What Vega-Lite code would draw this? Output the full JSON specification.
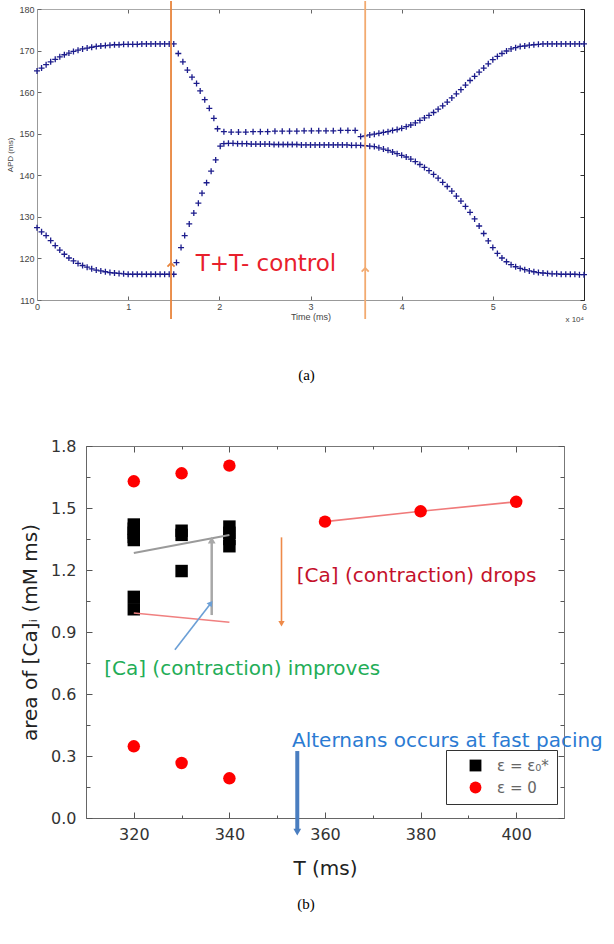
{
"$schema": "https://vega.github.io/schema/vega-lite/v6.json",
"padding": {"left": 6, "top": 0, "right": 0, "bottom": 0},
"spacing": 55,
"config": {"view": {"stroke": null}, "axis": {"grid": false, "titleFontWeight": "normal", "labelOverlap": false, "labelFlush": false, "labelBound": false}},
"datasets": {
"apd": [
{"t":0,"v":165.1},{"t":0.05,"v":165.8},{"t":0.1,"v":166.6},{"t":0.15,"v":167.3},{"t":0.2,"v":167.9},{"t":0.25,"v":168.5},{"t":0.3,"v":169.0},{"t":0.35,"v":169.4},{"t":0.4,"v":169.8},{"t":0.45,"v":170.1},{"t":0.5,"v":170.4},{"t":0.55,"v":170.6},{"t":0.6,"v":170.8},{"t":0.65,"v":171.0},{"t":0.7,"v":171.1},{"t":0.75,"v":171.2},{"t":0.8,"v":171.3},{"t":0.85,"v":171.4},{"t":0.9,"v":171.4},{"t":0.95,"v":171.5},{"t":1.0,"v":171.5},{"t":1.05,"v":171.5},{"t":1.1,"v":171.5},{"t":1.15,"v":171.6},{"t":1.2,"v":171.6},{"t":1.25,"v":171.6},{"t":1.3,"v":171.6},{"t":1.35,"v":171.6},{"t":1.4,"v":171.6},{"t":1.45,"v":171.6},{"t":1.5,"v":171.6},
{"t":1.55,"v":169.3},{"t":1.6,"v":167.3},{"t":1.65,"v":165.3},{"t":1.7,"v":163.6},{"t":1.75,"v":162.1},{"t":1.79,"v":160.3},{"t":1.84,"v":158.2},{"t":1.89,"v":156.1},{"t":1.94,"v":153.7},{"t":1.98,"v":151.2},{"t":2.05,"v":150.5},
{"t":2.13,"v":150.4},{"t":2.21,"v":150.4},{"t":2.29,"v":150.4},{"t":2.37,"v":150.5},{"t":2.45,"v":150.5},{"t":2.53,"v":150.5},{"t":2.61,"v":150.6},{"t":2.69,"v":150.6},{"t":2.77,"v":150.6},{"t":2.85,"v":150.6},{"t":2.93,"v":150.7},{"t":3.01,"v":150.7},{"t":3.09,"v":150.7},{"t":3.17,"v":150.7},{"t":3.25,"v":150.7},{"t":3.33,"v":150.8},{"t":3.41,"v":150.8},{"t":3.49,"v":150.8},
{"t":0,"v":127.4},{"t":0.05,"v":126.4},{"t":0.1,"v":125.5},{"t":0.15,"v":124.3},{"t":0.2,"v":123.1},{"t":0.25,"v":122.0},{"t":0.3,"v":121.0},{"t":0.35,"v":120.1},{"t":0.4,"v":119.4},{"t":0.45,"v":118.8},{"t":0.5,"v":118.3},{"t":0.55,"v":117.9},{"t":0.6,"v":117.5},{"t":0.65,"v":117.2},{"t":0.7,"v":117.0},{"t":0.75,"v":116.8},{"t":0.8,"v":116.6},{"t":0.85,"v":116.5},{"t":0.9,"v":116.4},{"t":0.95,"v":116.3},{"t":1.0,"v":116.2},{"t":1.05,"v":116.2},{"t":1.1,"v":116.2},{"t":1.15,"v":116.2},{"t":1.2,"v":116.2},{"t":1.25,"v":116.2},{"t":1.3,"v":116.2},{"t":1.35,"v":116.2},{"t":1.4,"v":116.2},{"t":1.45,"v":116.2},{"t":1.5,"v":116.2},
{"t":1.53,"v":119.0},{"t":1.58,"v":122.6},{"t":1.62,"v":125.5},{"t":1.67,"v":128.3},{"t":1.72,"v":130.9},{"t":1.77,"v":133.3},{"t":1.81,"v":135.7},{"t":1.86,"v":138.2},{"t":1.91,"v":141.0},{"t":1.96,"v":143.7},{"t":2.01,"v":147.0},
{"t":2.05,"v":147.6},{"t":2.1,"v":147.7},{"t":2.15,"v":147.7},{"t":2.2,"v":147.6},{"t":2.25,"v":147.6},{"t":2.3,"v":147.6},{"t":2.35,"v":147.5},{"t":2.4,"v":147.5},{"t":2.45,"v":147.5},{"t":2.5,"v":147.5},{"t":2.55,"v":147.5},{"t":2.6,"v":147.4},{"t":2.65,"v":147.4},{"t":2.7,"v":147.4},{"t":2.75,"v":147.4},{"t":2.8,"v":147.4},{"t":2.85,"v":147.4},{"t":2.9,"v":147.3},{"t":2.95,"v":147.3},{"t":3.0,"v":147.3},{"t":3.05,"v":147.3},{"t":3.1,"v":147.3},{"t":3.15,"v":147.3},{"t":3.2,"v":147.3},{"t":3.25,"v":147.3},{"t":3.3,"v":147.3},{"t":3.35,"v":147.3},{"t":3.4,"v":147.3},{"t":3.45,"v":147.2},{"t":3.5,"v":147.2},{"t":3.55,"v":147.2},{"t":3.6,"v":147.1},
{"t":3.65,"v":147.0},{"t":3.7,"v":146.9},{"t":3.75,"v":146.6},{"t":3.8,"v":146.3},{"t":3.85,"v":146.0},{"t":3.9,"v":145.6},{"t":3.95,"v":145.2},{"t":4.0,"v":144.8},{"t":4.05,"v":144.4},{"t":4.1,"v":143.9},{"t":4.15,"v":143.3},{"t":4.2,"v":142.6},{"t":4.25,"v":141.9},{"t":4.3,"v":141.1},{"t":4.35,"v":140.2},{"t":4.4,"v":139.3},{"t":4.45,"v":138.3},{"t":4.5,"v":137.3},{"t":4.55,"v":136.2},{"t":4.6,"v":135.0},{"t":4.65,"v":133.8},{"t":4.7,"v":132.5},{"t":4.75,"v":131.1},{"t":4.8,"v":129.5},{"t":4.85,"v":127.8},{"t":4.9,"v":126.0},{"t":4.95,"v":124.2},{"t":5.0,"v":122.6},{"t":5.05,"v":121.2},{"t":5.1,"v":120.1},{"t":5.15,"v":119.2},{"t":5.2,"v":118.5},{"t":5.25,"v":118.0},{"t":5.3,"v":117.6},{"t":5.35,"v":117.3},{"t":5.4,"v":117.0},{"t":5.45,"v":116.8},{"t":5.5,"v":116.6},{"t":5.55,"v":116.5},{"t":5.6,"v":116.4},{"t":5.65,"v":116.3},{"t":5.7,"v":116.3},{"t":5.75,"v":116.2},{"t":5.8,"v":116.2},{"t":5.85,"v":116.2},{"t":5.9,"v":116.2},{"t":5.95,"v":116.1},{"t":6.0,"v":116.1},
{"t":3.55,"v":149.3},{"t":3.6,"v":149.5},{"t":3.65,"v":149.7},{"t":3.7,"v":149.9},{"t":3.75,"v":150.1},{"t":3.8,"v":150.3},{"t":3.85,"v":150.5},{"t":3.9,"v":150.8},{"t":3.95,"v":151.0},{"t":4.0,"v":151.3},{"t":4.05,"v":151.7},{"t":4.1,"v":152.1},{"t":4.15,"v":152.6},{"t":4.2,"v":153.2},{"t":4.25,"v":153.8},{"t":4.3,"v":154.4},{"t":4.35,"v":155.1},{"t":4.4,"v":155.9},{"t":4.45,"v":156.7},{"t":4.5,"v":157.6},{"t":4.55,"v":158.6},{"t":4.6,"v":159.6},{"t":4.65,"v":160.6},{"t":4.7,"v":161.7},{"t":4.75,"v":162.8},{"t":4.8,"v":163.8},{"t":4.85,"v":164.8},{"t":4.9,"v":165.8},{"t":4.95,"v":166.8},{"t":5.0,"v":167.8},{"t":5.05,"v":168.6},{"t":5.1,"v":169.3},{"t":5.15,"v":169.9},{"t":5.2,"v":170.4},{"t":5.25,"v":170.7},{"t":5.3,"v":171.0},{"t":5.35,"v":171.1},{"t":5.4,"v":171.3},{"t":5.45,"v":171.4},{"t":5.5,"v":171.5},{"t":5.55,"v":171.6},{"t":5.6,"v":171.6},{"t":5.65,"v":171.6},{"t":5.7,"v":171.6},{"t":5.75,"v":171.6},{"t":5.8,"v":171.6},{"t":5.85,"v":171.6},{"t":5.9,"v":171.6},{"t":5.95,"v":171.6},{"t":6.0,"v":171.6}
],
"ca": [
{"T":320,"A":1.42,"eps":"ε = ε₀*"},{"T":320,"A":1.40,"eps":"ε = ε₀*"},{"T":320,"A":1.38,"eps":"ε = ε₀*"},{"T":320,"A":1.36,"eps":"ε = ε₀*"},{"T":320,"A":1.345,"eps":"ε = ε₀*"},{"T":320,"A":1.07,"eps":"ε = ε₀*"},{"T":320,"A":1.01,"eps":"ε = ε₀*"},
{"T":330,"A":1.39,"eps":"ε = ε₀*"},{"T":330,"A":1.37,"eps":"ε = ε₀*"},{"T":330,"A":1.195,"eps":"ε = ε₀*"},
{"T":340,"A":1.41,"eps":"ε = ε₀*"},{"T":340,"A":1.38,"eps":"ε = ε₀*"},{"T":340,"A":1.35,"eps":"ε = ε₀*"},{"T":340,"A":1.315,"eps":"ε = ε₀*"},
{"T":320,"A":1.629,"eps":"ε = 0"},{"T":330,"A":1.668,"eps":"ε = 0"},{"T":340,"A":1.705,"eps":"ε = 0"},
{"T":320,"A":0.347,"eps":"ε = 0"},{"T":330,"A":0.266,"eps":"ε = 0"},{"T":340,"A":0.192,"eps":"ε = 0"},
{"T":360,"A":1.434,"eps":"ε = 0"},{"T":380,"A":1.484,"eps":"ε = 0"},{"T":400,"A":1.53,"eps":"ε = 0"}
]
},
"vconcat": [
{
"width": 547, "height": 291,
"title": {"text": "(a)", "orient": "bottom", "offset": 44, "dx": -4, "font": "Liberation Serif", "fontSize": 15, "fontWeight": "normal", "color": "#000000"},
"resolve": {"axis": {"x": "independent", "y": "independent"}},
"layer": [
{"data": {"name": "apd"},
 "mark": {"type": "point", "shape": "M-1,0L1,0M0,-1L0,1", "size": 36, "filled": false, "stroke": "#1c1c8c", "strokeWidth": 1.3, "opacity": 1},
 "encoding": {
  "x": {"field": "t", "type": "quantitative", "scale": {"domain": [0, 6], "nice": false, "zero": false},
        "axis": {"orient": "bottom", "values": [0,1,2,3,4,5,6], "tickSize": -4, "tickColor": "#666", "domainColor": "#999", "labelFont": "Liberation Sans", "labelFontSize": 9, "labelColor": "#444", "labelPadding": 6, "title": "Time (ms)", "titleFont": "Liberation Sans", "titleFontSize": 9, "titleColor": "#444", "titlePadding": 1}},
  "y": {"field": "v", "type": "quantitative", "scale": {"domain": [110, 180], "nice": false, "zero": false},
        "axis": {"orient": "left", "values": [110,120,130,140,150,160,170,180], "tickSize": -4, "tickColor": "#666", "domainColor": "#999", "labelFont": "Liberation Sans", "labelFontSize": 9, "labelColor": "#444", "labelPadding": 7, "title": "APD (ms)", "titleFont": "Liberation Sans", "titleFontSize": 8, "titleColor": "#444", "titlePadding": 4}}
 }},
{"data": {"values": [{}]},
 "mark": {"type": "rule", "color": "#e8843c", "strokeWidth": 1.8, "clip": false},
 "encoding": {
  "x": {"datum": 1.47, "axis": {"orient": "top", "values": [0,1,2,3,4,5,6], "labels": false, "tickSize": -4, "tickColor": "#666", "domainColor": "#aaa", "title": null}},
  "y": {"datum": 181.9, "axis": {"orient": "right", "values": [110,120,130,140,150,160,170,180], "labels": false, "tickSize": -4, "tickColor": "#333", "domainColor": "#222", "title": null}},
  "y2": {"datum": 105.4}
 }},
{"data": {"values": [{}]},
 "mark": {"type": "rule", "color": "#f2aa70", "strokeWidth": 1.8, "clip": false},
 "encoding": {"x": {"datum": 3.6, "axis": null}, "y": {"datum": 181.9, "axis": null}, "y2": {"datum": 105.4}}},
{"data": {"values": [{}]},
 "mark": {"type": "point", "shape": "M-1,1L0,0L1,1", "size": 50, "filled": false, "stroke": "#e8843c", "strokeWidth": 1.8, "opacity": 1, "clip": false},
 "encoding": {"x": {"datum": 1.47, "axis": null}, "y": {"datum": 118.9, "axis": null}}},
{"data": {"values": [{}]},
 "mark": {"type": "point", "shape": "M-1,1L0,0L1,1", "size": 50, "filled": false, "stroke": "#f2aa70", "strokeWidth": 1.8, "opacity": 1, "clip": false},
 "encoding": {"x": {"datum": 3.6, "axis": null}, "y": {"datum": 117.7, "axis": null}}},
{"data": {"values": [{}]},
 "mark": {"type": "text", "text": "T+T- control", "align": "left", "baseline": "middle", "font": "DejaVu Sans", "fontSize": 23, "color": "#e8202c"},
 "encoding": {"x": {"datum": 1.74, "axis": null}, "y": {"datum": 118.7, "axis": null}}},
{"data": {"values": [{}]},
 "mark": {"type": "text", "text": "x 10⁴", "align": "right", "baseline": "middle", "font": "Liberation Sans", "fontSize": 8, "color": "#444", "clip": false},
 "encoding": {"x": {"datum": 6, "axis": null}, "y": {"datum": 105.3, "axis": null}}}
]
},
{
"hconcat": [
{"width": 49, "height": 1, "view": {"stroke": null}, "data": {"values": []}, "mark": "text", "encoding": {}},
{
"width": 478, "height": 372,
"title": {"text": "(b)", "orient": "bottom", "offset": 19, "dx": -19, "font": "Liberation Serif", "fontSize": 15, "fontWeight": "normal", "color": "#000000"},
"resolve": {"axis": {"x": "independent", "y": "independent"}},
"layer": [
{"data": {"name": "ca"}, "transform": [{"filter": "datum.T >= 360"}],
 "mark": {"type": "line", "color": "#f07a7a", "strokeWidth": 1.6},
 "encoding": {
  "x": {"field": "T", "type": "quantitative", "scale": {"domain": [310, 410], "nice": false, "zero": false},
        "axis": {"orient": "top", "values": [320,340,360,380,400], "labels": false, "tickSize": -6, "tickColor": "#555", "domainColor": "#777", "title": null}},
  "y": {"field": "A", "type": "quantitative", "scale": {"domain": [0, 1.8], "nice": false, "zero": false},
        "axis": {"orient": "right", "values": [0,0.3,0.6,0.9,1.2,1.5,1.8], "labels": false, "tickSize": -6, "tickColor": "#555", "domainColor": "#777", "title": null}}
 }},
{"data": {"name": "ca"},
 "mark": {"type": "point", "filled": true, "size": 155, "opacity": 1},
 "encoding": {
  "x": {"field": "T", "type": "quantitative",
        "axis": {"orient": "bottom", "values": [320,340,360,380,400], "tickSize": -6, "tickColor": "#555", "domainColor": "#666", "labelFont": "DejaVu Sans", "labelFontSize": 16, "labelColor": "#333", "labelPadding": 14, "title": "T (ms)", "titleFont": "DejaVu Sans", "titleFontSize": 20, "titleColor": "#222", "titlePadding": 16}},
  "y": {"field": "A", "type": "quantitative",
        "axis": {"orient": "left", "values": [0,0.3,0.6,0.9,1.2,1.5,1.8], "format": ".1f", "tickSize": -6, "tickColor": "#555", "domainColor": "#666", "labelFont": "DejaVu Sans", "labelFontSize": 16, "labelColor": "#333", "labelPadding": 16, "title": "area of [Ca]ᵢ (mM ms)", "titleFont": "DejaVu Sans", "titleFontSize": 20, "titleColor": "#222", "titlePadding": 10}},
  "color": {"field": "eps", "type": "nominal", "scale": {"domain": ["ε = ε₀*", "ε = 0"], "range": ["#000000", "#ff0000"]},
        "legend": {"orient": "none", "legendX": 409, "legendY": 741, "title": null, "strokeColor": "#333", "fillColor": "#ffffff", "padding": 8, "symbolOffset": 14, "rowPadding": 6, "labelFont": "DejaVu Sans", "labelFontSize": 15, "labelColor": "#666", "symbolSize": 140, "labelOffset": 14, "symbolStrokeWidth": 0}},
  "shape": {"field": "eps", "type": "nominal", "scale": {"domain": ["ε = ε₀*", "ε = 0"], "range": ["square", "circle"]},
        "legend": {"orient": "none", "legendX": 409, "legendY": 741, "title": null, "strokeColor": "#333", "fillColor": "#ffffff", "padding": 8, "symbolOffset": 14, "rowPadding": 6, "labelFont": "DejaVu Sans", "labelFontSize": 15, "labelColor": "#666", "symbolSize": 140, "labelOffset": 14, "symbolStrokeWidth": 0}}
 }},
{"data": {"values": [{"T": 320, "A": 1.282}, {"T": 340, "A": 1.369}]},
 "mark": {"type": "line", "color": "#9a9a9a", "strokeWidth": 2},
 "encoding": {
  "x": {"field": "T", "type": "quantitative", "axis": {"orient": "bottom", "values": [310,330,350,370,390,410], "labels": false, "domain": false, "tickSize": -3, "tickColor": "#555", "title": null}},
  "y": {"field": "A", "type": "quantitative", "axis": {"orient": "left", "values": [0.15,0.45,0.75,1.05,1.35,1.65], "labels": false, "domain": false, "tickSize": -4, "tickColor": "#555", "title": null}}
 }},
{"data": {"values": [{"T": 320, "A": 0.992}, {"T": 340, "A": 0.947}]},
 "mark": {"type": "line", "color": "#f08080", "strokeWidth": 1.5},
 "encoding": {
  "x": {"field": "T", "type": "quantitative", "axis": {"orient": "top", "values": [310,330,350,370,390,410], "labels": false, "domain": false, "tickSize": -3, "tickColor": "#555", "title": null}},
  "y": {"field": "A", "type": "quantitative", "axis": {"orient": "right", "values": [0.15,0.45,0.75,1.05,1.35,1.65], "labels": false, "domain": false, "tickSize": -4, "tickColor": "#555", "title": null}}
 }},
{"data": {"values": [{}]},
 "mark": {"type": "rule", "color": "#a8a8a8", "strokeWidth": 2.5},
 "encoding": {"x": {"datum": 336.3, "axis": null}, "y": {"datum": 0.982, "axis": null}, "y2": {"datum": 1.34}}},
{"data": {"values": [{}]},
 "mark": {"type": "point", "shape": "triangle-up", "size": 60, "filled": true, "color": "#a8a8a8", "opacity": 1},
 "encoding": {"x": {"datum": 336.3, "axis": null}, "y": {"datum": 1.345, "axis": null}}},
{"data": {"values": [{}]},
 "mark": {"type": "rule", "color": "#6b9fd6", "strokeWidth": 1.6},
 "encoding": {"x": {"datum": 328.6, "axis": null}, "y": {"datum": 0.814, "axis": null}, "x2": {"datum": 336.0}, "y2": {"datum": 1.035}}},
{"data": {"values": [{}]},
 "mark": {"type": "point", "shape": "triangle-up", "size": 40, "filled": true, "color": "#6b9fd6", "opacity": 1, "angle": 37},
 "encoding": {"x": {"datum": 336.1, "axis": null}, "y": {"datum": 1.04, "axis": null}}},
{"data": {"values": [{}]},
 "mark": {"type": "rule", "color": "#ee8a4a", "strokeWidth": 1.6},
 "encoding": {"x": {"datum": 350.9, "axis": null}, "y": {"datum": 1.358, "axis": null}, "y2": {"datum": 0.95}}},
{"data": {"values": [{}]},
 "mark": {"type": "point", "shape": "triangle-down", "size": 40, "filled": true, "color": "#ee8a4a", "opacity": 1},
 "encoding": {"x": {"datum": 350.9, "axis": null}, "y": {"datum": 0.94, "axis": null}}},
{"data": {"values": [{}]},
 "mark": {"type": "rule", "color": "#4a7ec0", "strokeWidth": 4, "clip": false},
 "encoding": {"x": {"datum": 354.2, "axis": null}, "y": {"datum": 0.324, "axis": null}, "y2": {"datum": -0.06}}},
{"data": {"values": [{}]},
 "mark": {"type": "point", "shape": "triangle-down", "size": 60, "filled": true, "color": "#4a7ec0", "opacity": 1, "clip": false},
 "encoding": {"x": {"datum": 354.2, "axis": null}, "y": {"datum": -0.068, "axis": null}}},
{"data": {"values": [{}]},
 "mark": {"type": "text", "text": "[Ca] (contraction) drops", "align": "left", "baseline": "middle", "font": "DejaVu Sans", "fontSize": 20, "color": "#c4112b"},
 "encoding": {"x": {"datum": 354.1, "axis": null}, "y": {"datum": 1.172, "axis": null}}},
{"data": {"values": [{}]},
 "mark": {"type": "text", "text": "[Ca] (contraction) improves", "align": "left", "baseline": "middle", "font": "DejaVu Sans", "fontSize": 20, "color": "#23ad57"},
 "encoding": {"x": {"datum": 313.8, "axis": null}, "y": {"datum": 0.721, "axis": null}}},
{"data": {"values": [{}]},
 "mark": {"type": "text", "text": "Alternans occurs at fast pacing", "align": "left", "baseline": "middle", "font": "DejaVu Sans", "fontSize": 20, "color": "#2b7bd3", "clip": false},
 "encoding": {"x": {"datum": 353.1, "axis": null}, "y": {"datum": 0.373, "axis": null}}}
]
}
],
"spacing": 0,
"bounds": "flush"
}
]
}
